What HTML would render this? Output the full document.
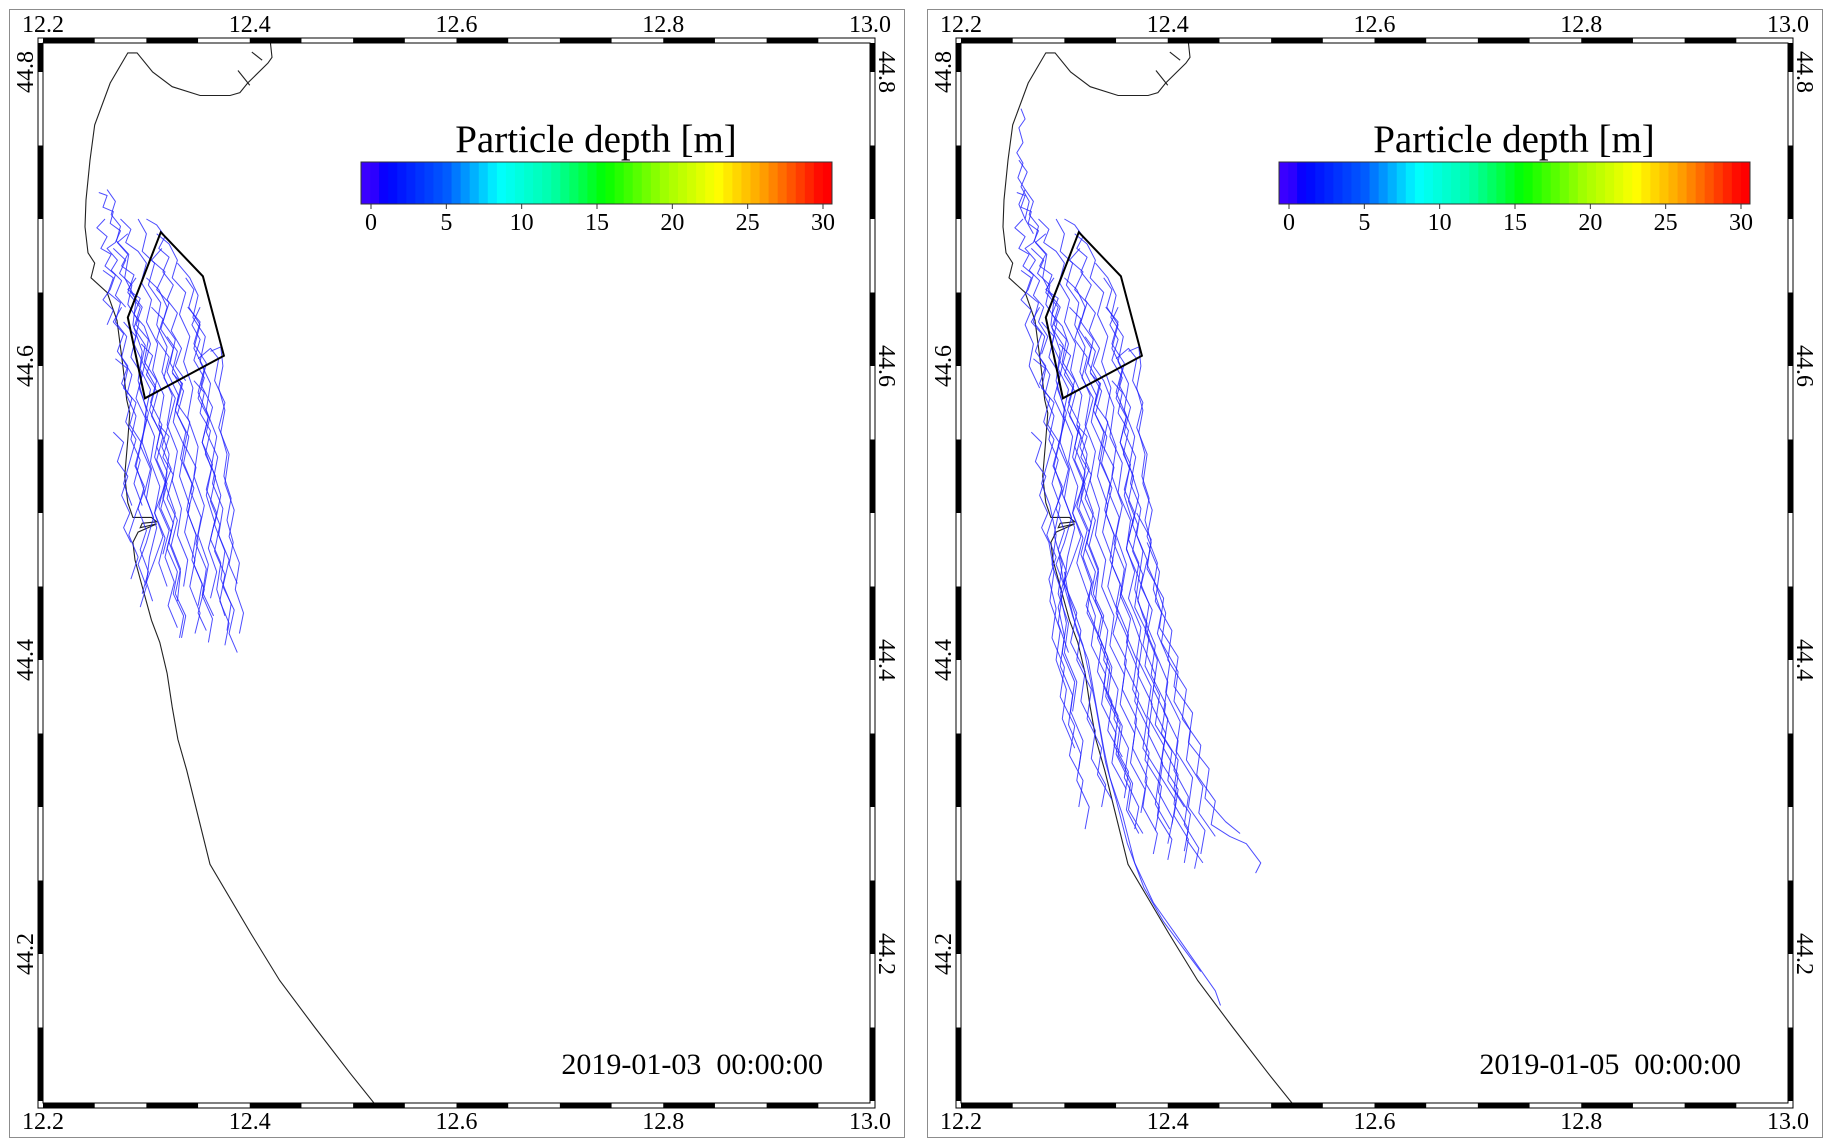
<!DOCTYPE html>
<html><head><meta charset="utf-8">
<style>
html,body{margin:0;padding:0;background:#fff;}
svg{display:block;font-family:"Liberation Serif",serif;}
text{font-family:"Liberation Serif",serif;}
</style></head>
<body>
<svg id="fig" xmlns="http://www.w3.org/2000/svg" width="1830" height="1148" viewBox="0 0 1830 1148" font-family="Liberation Serif, serif"></svg>
<script>
const lonTicks = [12.2, 12.4, 12.6, 12.8, 13.0];
const latTicks = [44.2, 44.4, 44.6, 44.8];
const cbTicks = [0, 5, 10, 15, 20, 25, 30];
const panelDates = ["2019-01-03  00:00:00", "2019-01-05  00:00:00"];
const coastLon = [12.420,12.4215,12.4176,12.398,12.3905,12.381,12.352,12.325,12.306,12.291,12.282,12.265,12.250,12.2455,12.2416,12.2406,12.2435,12.250,12.2464,12.262,12.2716,12.2774,12.281,12.284,12.282,12.279,12.282,12.287,12.305,12.310,12.296,12.294,12.310,12.292,12.287,12.289,12.296,12.305,12.313,12.320,12.325,12.3305,12.339,12.3615,12.401,12.429,12.463,12.497,12.522];
const coastLat = [44.820,44.810,44.806,44.7925,44.786,44.784,44.784,44.790,44.800,44.813,44.813,44.7925,44.764,44.740,44.713,44.6946,44.677,44.670,44.660,44.650,44.631,44.5994,44.577,44.568,44.550,44.525,44.507,44.497,44.497,44.494,44.493,44.490,44.4926,44.487,44.480,44.468,44.450,44.427,44.412,44.391,44.368,44.346,44.325,44.261,44.214,44.182,44.150,44.119,44.097];
const notchLon = [[12.3886,12.400],[12.402,12.412]];
const notchLat = [[44.801,44.791],[44.8136,44.808]];
const areaLon = [12.314,12.3547,12.375,12.2986,12.282];
const areaLat = [44.691,44.661,44.607,44.578,44.633];
const tracksDay3 = [
"12.262,44.720 12.270,44.712 12.266,44.703 12.275,44.695 12.271,44.685 12.283,44.676 12.279,44.660 12.290,44.645 12.287,44.628 12.296,44.610 12.292,44.590 12.300,44.570 12.296,44.548 12.305,44.530 12.300,44.510 12.310,44.490 12.303,44.470 12.300,44.452",
"12.275,44.700 12.285,44.693 12.280,44.684 12.292,44.678 12.300,44.670 12.295,44.657 12.305,44.645 12.300,44.630 12.311,44.615 12.306,44.597 12.317,44.580 12.312,44.560 12.322,44.540 12.318,44.520 12.328,44.500 12.322,44.480 12.333,44.460 12.330,44.440",
"12.310,44.690 12.322,44.683 12.330,44.672 12.325,44.660 12.338,44.650 12.332,44.635 12.342,44.620 12.336,44.603 12.345,44.585 12.340,44.565 12.350,44.545 12.346,44.525 12.356,44.505 12.350,44.485 12.360,44.465 12.355,44.445 12.365,44.430",
"12.330,44.670 12.342,44.660 12.350,44.648 12.345,44.633 12.357,44.620 12.352,44.603 12.362,44.588 12.358,44.570 12.368,44.552 12.363,44.532 12.372,44.512 12.366,44.492 12.376,44.474 12.372,44.455 12.382,44.438 12.378,44.420",
"12.285,44.650 12.296,44.640 12.290,44.628 12.302,44.618 12.298,44.603 12.310,44.590 12.304,44.575 12.315,44.560 12.310,44.545 12.320,44.528 12.316,44.510 12.326,44.493 12.320,44.476 12.330,44.460 12.326,44.445 12.336,44.430 12.332,44.415",
"12.268,44.680 12.280,44.672 12.274,44.663 12.286,44.655 12.282,44.642 12.293,44.630 12.288,44.615 12.298,44.600 12.293,44.585 12.302,44.568 12.296,44.550 12.290,44.532 12.298,44.515 12.290,44.500 12.283,44.485 12.292,44.470 12.285,44.455",
"12.300,44.660 12.312,44.652 12.320,44.640 12.314,44.625 12.326,44.612 12.320,44.596 12.331,44.580 12.326,44.562 12.337,44.545 12.332,44.525 12.342,44.505 12.337,44.487 12.347,44.468 12.342,44.450 12.352,44.432 12.347,44.418",
"12.340,44.640 12.352,44.630 12.346,44.615 12.358,44.602 12.353,44.587 12.364,44.572 12.358,44.555 12.369,44.538 12.364,44.520 12.374,44.503 12.370,44.485 12.380,44.468 12.374,44.450 12.385,44.434 12.380,44.418 12.388,44.405",
"12.292,44.700 12.300,44.690 12.296,44.678 12.308,44.670 12.302,44.655 12.314,44.643 12.310,44.628 12.320,44.613 12.315,44.596 12.325,44.580 12.320,44.560 12.330,44.542 12.325,44.522 12.334,44.503 12.330,44.485 12.340,44.468 12.336,44.450",
"12.278,44.630 12.290,44.620 12.285,44.606 12.296,44.594 12.290,44.578 12.300,44.563 12.294,44.546 12.304,44.530 12.298,44.513 12.307,44.497 12.300,44.480 12.292,44.465 12.300,44.450 12.294,44.436",
"12.320,44.620 12.330,44.610 12.325,44.596 12.336,44.583 12.330,44.567 12.341,44.552 12.336,44.534 12.346,44.517 12.340,44.500 12.350,44.482 12.346,44.465 12.356,44.448 12.350,44.432 12.358,44.420",
"12.350,44.605 12.362,44.612 12.370,44.605 12.366,44.590 12.376,44.575 12.370,44.558 12.380,44.540 12.376,44.520 12.385,44.502 12.380,44.484 12.390,44.466 12.386,44.448 12.394,44.432 12.390,44.418",
"12.362,44.610 12.372,44.613 12.374,44.600 12.370,44.585 12.376,44.570 12.372,44.555 12.378,44.540 12.375,44.525 12.382,44.510 12.378,44.495 12.384,44.480 12.380,44.465 12.388,44.452",
"12.305,44.640 12.316,44.632 12.310,44.618 12.322,44.606 12.317,44.592 12.328,44.578 12.322,44.562 12.315,44.545 12.324,44.530 12.316,44.515 12.308,44.500 12.316,44.484 12.308,44.468 12.300,44.453 12.306,44.440",
"12.270,44.605 12.282,44.598 12.278,44.585 12.290,44.575 12.284,44.560 12.295,44.548 12.289,44.532 12.298,44.518 12.292,44.503 12.300,44.488 12.294,44.475 12.302,44.460 12.296,44.445",
"12.315,44.680 12.305,44.672 12.318,44.664 12.310,44.652 12.322,44.643 12.316,44.630 12.328,44.618 12.323,44.602 12.334,44.588 12.328,44.570 12.338,44.555 12.333,44.537 12.344,44.520 12.339,44.502 12.348,44.485 12.344,44.468 12.354,44.452 12.350,44.437",
"12.282,44.690 12.272,44.684 12.282,44.676 12.276,44.668 12.288,44.662 12.282,44.650 12.294,44.640 12.288,44.626 12.299,44.614 12.294,44.598 12.304,44.584 12.299,44.567 12.308,44.552 12.304,44.535 12.313,44.518 12.308,44.500 12.318,44.483 12.312,44.466 12.320,44.450",
"12.258,44.665 12.268,44.660 12.263,44.650 12.275,44.643 12.270,44.630 12.281,44.620 12.276,44.606 12.286,44.594 12.281,44.580 12.290,44.566 12.285,44.550 12.294,44.536 12.288,44.520 12.296,44.505",
"12.325,44.595 12.335,44.588 12.330,44.574 12.342,44.562 12.337,44.546 12.348,44.531 12.343,44.514 12.353,44.497 12.348,44.479 12.358,44.462 12.354,44.444 12.364,44.428 12.360,44.412",
"12.338,44.660 12.346,44.652 12.341,44.640 12.352,44.628 12.346,44.612 12.356,44.598 12.350,44.582 12.360,44.566 12.354,44.548 12.363,44.530 12.358,44.512 12.366,44.494 12.360,44.476 12.368,44.460 12.362,44.442",
"12.295,44.615 12.306,44.607 12.300,44.594 12.311,44.582 12.305,44.566 12.316,44.552 12.310,44.536 12.320,44.520 12.314,44.503 12.324,44.487 12.318,44.470 12.327,44.453 12.321,44.437 12.330,44.422",
"12.254,44.718 12.262,44.716 12.258,44.708 12.268,44.705 12.265,44.697 12.275,44.692 12.270,44.684 12.262,44.680 12.272,44.672 12.266,44.665 12.276,44.658 12.270,44.648 12.280,44.640",
"12.260,44.700 12.252,44.694 12.262,44.688 12.256,44.680 12.266,44.676 12.260,44.668 12.270,44.662 12.265,44.652 12.258,44.645 12.268,44.638 12.262,44.628",
"12.300,44.700 12.310,44.696 12.318,44.688 12.312,44.680 12.322,44.674 12.316,44.664 12.326,44.655 12.320,44.645 12.330,44.636 12.324,44.624 12.334,44.612 12.328,44.600 12.338,44.590",
"12.268,44.555 12.278,44.548 12.272,44.535 12.282,44.525 12.276,44.512 12.284,44.500 12.278,44.490 12.285,44.480",
"12.346,44.590 12.356,44.582 12.352,44.568 12.362,44.556 12.357,44.540 12.367,44.525 12.362,44.508 12.371,44.492 12.366,44.474 12.376,44.458 12.371,44.440 12.380,44.425 12.376,44.410",
"12.290,44.660 12.282,44.652 12.294,44.646 12.288,44.635 12.298,44.627 12.304,44.615 12.298,44.600 12.309,44.586 12.303,44.570 12.313,44.555 12.308,44.538 12.318,44.521 12.312,44.504 12.322,44.488 12.316,44.472",
"12.276,44.640 12.268,44.630 12.278,44.622 12.272,44.610 12.282,44.600 12.276,44.588 12.286,44.578 12.280,44.562 12.290,44.550 12.284,44.535 12.278,44.520 12.286,44.505",
"12.352,44.640 12.344,44.628 12.352,44.618 12.346,44.604 12.356,44.592 12.350,44.578 12.360,44.565 12.354,44.548 12.364,44.533 12.358,44.516 12.368,44.500 12.362,44.482 12.372,44.466 12.368,44.448 12.376,44.430",
"12.312,44.560 12.322,44.552 12.316,44.538 12.326,44.526 12.320,44.510 12.330,44.495 12.324,44.478 12.333,44.462 12.328,44.445 12.338,44.430 12.334,44.415"
];
const extDay5 = [
"12.312,44.432 12.306,44.412 12.320,44.392 12.316,44.372 12.330,44.352 12.326,44.333 12.340,44.315 12.336,44.300",
"12.342,44.420 12.338,44.400 12.352,44.380 12.348,44.360 12.362,44.340 12.358,44.320 12.372,44.300 12.368,44.285",
"12.375,44.410 12.371,44.390 12.385,44.370 12.381,44.350 12.395,44.330 12.391,44.310 12.405,44.292 12.400,44.275",
"12.390,44.400 12.386,44.380 12.400,44.360 12.396,44.340 12.410,44.322 12.406,44.302 12.420,44.285 12.416,44.270",
"12.344,44.395 12.340,44.375 12.354,44.356 12.350,44.336 12.364,44.316 12.360,44.298 12.372,44.282",
"12.292,44.435 12.288,44.415 12.300,44.395 12.296,44.375 12.310,44.355 12.305,44.335 12.318,44.318 12.314,44.300",
"12.360,44.400 12.356,44.380 12.370,44.360 12.366,44.340 12.380,44.320 12.376,44.300 12.390,44.282 12.386,44.268",
"12.400,44.385 12.396,44.365 12.410,44.345 12.406,44.325 12.420,44.307 12.416,44.288 12.430,44.272 12.426,44.258",
"12.348,44.430 12.344,44.410 12.358,44.390 12.354,44.370 12.368,44.350 12.364,44.330 12.378,44.312 12.374,44.296",
"12.300,44.416 12.296,44.396 12.308,44.376 12.304,44.356 12.316,44.336 12.312,44.318 12.324,44.300 12.320,44.285",
"12.370,44.400 12.366,44.380 12.380,44.360 12.376,44.340 12.392,44.322 12.388,44.302 12.402,44.285",
"12.402,44.398 12.398,44.378 12.412,44.358 12.408,44.338 12.424,44.320 12.420,44.300 12.436,44.284 12.432,44.268",
"12.398,44.432 12.394,44.412 12.410,44.392 12.406,44.372 12.422,44.352 12.418,44.332 12.434,44.314 12.430,44.296 12.446,44.280",
"12.316,44.420 12.312,44.400 12.326,44.380 12.322,44.360 12.336,44.340 12.332,44.322 12.346,44.305",
"12.302,44.425 12.298,44.405 12.310,44.385 12.306,44.365 12.318,44.345 12.314,44.326",
"12.362,44.417 12.358,44.397 12.372,44.377 12.368,44.357 12.382,44.337 12.378,44.317 12.392,44.300 12.388,44.284",
"12.330,44.430 12.326,44.410 12.340,44.390 12.336,44.370 12.350,44.350 12.346,44.330 12.360,44.312",
"12.290,44.485 12.298,44.465 12.294,44.445 12.304,44.425 12.300,44.405 12.312,44.385 12.308,44.365",
"12.372,44.392 12.368,44.372 12.382,44.352 12.378,44.332 12.394,44.314 12.390,44.294 12.404,44.278 12.400,44.264",
"12.374,44.422 12.370,44.402 12.384,44.382 12.380,44.362 12.396,44.342 12.392,44.322 12.408,44.304 12.404,44.288",
"12.342,44.402 12.338,44.382 12.352,44.362 12.348,44.342 12.362,44.324 12.358,44.306",
"12.275,44.630 12.284,44.620 12.278,44.608",
"12.270,44.615 12.266,44.600 12.276,44.585",
"12.348,44.572 12.344,44.552 12.356,44.534 12.352,44.514 12.364,44.495 12.360,44.475 12.372,44.456 12.368,44.436 12.382,44.416 12.378,44.396 12.392,44.376 12.388,44.356 12.404,44.338 12.400,44.318 12.416,44.300",
"12.290,44.460 12.286,44.440 12.296,44.420 12.292,44.400 12.302,44.380 12.298,44.360 12.310,44.340",
"12.388,44.390 12.384,44.370 12.398,44.350 12.394,44.330 12.410,44.312 12.406,44.294 12.420,44.278 12.416,44.262",
"12.326,44.452 12.322,44.432 12.336,44.412 12.332,44.392 12.346,44.372 12.342,44.352 12.356,44.334",
"12.292,44.485 12.288,44.465 12.298,44.445 12.294,44.425 12.304,44.405",
"12.388,44.410 12.384,44.390 12.398,44.370 12.394,44.350 12.410,44.332 12.406,44.312 12.422,44.295 12.418,44.278 12.434,44.262",
"12.346,44.395 12.342,44.375 12.356,44.355 12.352,44.335 12.366,44.316 12.362,44.298 12.376,44.282"
];
const extraDay5 = [
"12.262,44.700 12.256,44.710 12.262,44.720 12.255,44.728 12.260,44.738 12.254,44.745 12.260,44.752 12.256,44.762 12.262,44.768 12.258,44.775",
"12.270,44.690 12.262,44.700 12.266,44.712 12.258,44.722 12.264,44.732 12.256,44.740",
"12.380,44.480 12.392,44.460 12.388,44.440 12.404,44.420 12.400,44.400 12.418,44.380 12.414,44.360 12.432,44.342 12.428,44.322 12.446,44.304 12.442,44.288 12.460,44.280 12.476,44.275 12.490,44.262 12.485,44.255",
"12.370,44.500 12.384,44.482 12.380,44.462 12.396,44.442 12.392,44.422 12.410,44.402 12.406,44.382 12.424,44.364 12.420,44.344 12.440,44.326 12.436,44.306 12.456,44.290 12.470,44.282",
"12.300,44.460 12.305,44.440 12.312,44.420 12.323,44.400 12.328,44.380 12.333,44.360 12.338,44.340 12.344,44.320 12.356,44.295 12.368,44.262 12.386,44.235 12.406,44.215 12.426,44.195 12.446,44.175 12.451,44.165",
"12.295,44.470 12.300,44.450 12.308,44.430 12.318,44.410 12.324,44.390 12.330,44.370 12.335,44.350 12.340,44.330 12.350,44.305 12.361,44.275 12.377,44.245 12.396,44.222 12.416,44.203 12.432,44.188"
];
const cmapVals = [0, 1, 5, 8.5, 12, 15.5, 19.5, 23, 26, 30];
const cmapCols = [[58,0,255],[0,0,255],[0,90,255],[0,255,255],[0,255,170],[0,255,0],[160,255,0],[255,255,0],[255,160,0],[255,0,0]];

const NS = "http://www.w3.org/2000/svg";
const svg = document.getElementById("fig");
const FONT = '"Liberation Serif", serif';
function mk(tag, attrs, parent) {
  const e = document.createElementNS(NS, tag);
  for (const k in attrs) e.setAttribute(k, attrs[k]);
  if (tag === "text") e.setAttribute("font-family", FONT);
  (parent || svg).appendChild(e);
  return e;
}
function parseTrack(s) { return s.trim().split(/\s+/).map(p => p.split(",").map(Number)); }
function cmap(v) {
  for (let i = 0; i < cmapVals.length - 1; i++) {
    if (v <= cmapVals[i + 1]) {
      const t = (v - cmapVals[i]) / (cmapVals[i + 1] - cmapVals[i]);
      const a = cmapCols[i], b = cmapCols[i + 1];
      return "rgb(" + a.map((c, j) => Math.round(c + (b[j] - c) * t)).join(",") + ")";
    }
  }
  return "rgb(255,0,0)";
}
const LON0 = 12.2, LAT_REF = 44.8;
const PX_LON = 1033.75, PX_LAT = 1470;
const FX0 = 43, FX1 = 870, FY0 = 43, FY1 = 1103;

function drawPanel(ox, panelIdx) {
  const X = lon => ox + FX0 + (lon - LON0) * PX_LON;
  const Y = lat => 72 + (LAT_REF - lat) * PX_LAT;
  const latTop = LAT_REF + (72 - FY0) / PX_LAT;
  const latBot = LAT_REF - (FY1 - 72) / PX_LAT;

  const g = mk("g", {});
  
  

  const outer = mk("rect", {x: ox + 9.5, y: 9.5, width: 895, height: 1128, fill: "none", stroke: "#8c8c8c", "stroke-width": 1}, g);
  
  

  const clip = mk("clipPath", {id: "clip" + panelIdx}, g);
  mk("rect", {x: ox + FX0, y: FY0, width: FX1 - FX0, height: FY1 - FY0}, clip);
  const plot = mk("g", {"clip-path": "url(#clip" + panelIdx + ")"}, g);
  
  

  let d = coastLon.map((lo, i) => (i ? "L" : "M") + X(lo).toFixed(1) + " " + Y(coastLat[i]).toFixed(1)).join("");
  const coast = mk("path", {d: d, fill: "none", stroke: "#222", "stroke-width": 1.1}, plot);
  
  
  notchLon.forEach((nl, i) => {
    const n = mk("line", {x1: X(nl[0]), y1: Y(notchLat[i][0]), x2: X(nl[1]), y2: Y(notchLat[i][1]), stroke: "#222", "stroke-width": 1.1}, plot);
    
    
  });

  const tg = mk("g", {fill: "none", stroke: "#2020ff", "stroke-width": 1, "stroke-opacity": 0.8, "stroke-linejoin": "round"}, plot);
  
  
  const tracks = tracksDay3.map((s, i) => {
    let pts = parseTrack(s);
    if (panelIdx === 1 && extDay5[i]) pts = pts.concat(parseTrack(extDay5[i]));
    return pts;
  });
  if (panelIdx === 1) extraDay5.forEach(s => tracks.push(parseTrack(s)));
  tracks.forEach(pts => {
    const pd = pts.map((p, j) => (j ? "L" : "M") + X(p[0]).toFixed(1) + " " + Y(p[1]).toFixed(1)).join("");
    const t = mk("path", {d: pd}, tg);
    
    
  });

  const poly = mk("polygon", {points: areaLon.map((lo, i) => X(lo).toFixed(1) + "," + Y(areaLat[i]).toFixed(1)).join(" "), fill: "none", stroke: "#000", "stroke-width": 2}, plot);
  
  

  const fr = mk("g", {}, g);
  
  
  for (let k = 0; k < 16; k++) {
    if (k % 2) continue;
    const xa = X(LON0 + 0.05 * k), xb = X(LON0 + 0.05 * (k + 1));
    mk("rect", {x: xa, y: 38, width: xb - xa, height: 5, fill: "#000"}, fr);
    mk("rect", {x: xa, y: FY1, width: xb - xa, height: 5, fill: "#000"}, fr);
  }
  for (let k = 0; k < 20; k++) {
    if (k % 2) continue;
    let lo = 44.0 + 0.05 * k, hi = lo + 0.05;
    lo = Math.max(lo, latBot); hi = Math.min(hi, latTop);
    if (hi <= lo) continue;
    mk("rect", {x: ox + 38, y: Y(hi), width: 5, height: Y(lo) - Y(hi), fill: "#000"}, fr);
    mk("rect", {x: ox + FX1, y: Y(hi), width: 5, height: Y(lo) - Y(hi), fill: "#000"}, fr);
  }
  mk("rect", {x: ox + 38, y: 38, width: 837, height: 1070, fill: "none", stroke: "#000", "stroke-width": 1}, fr);
  mk("rect", {x: ox + FX0, y: FY0, width: FX1 - FX0, height: FY1 - FY0, fill: "none", stroke: "#000", "stroke-width": 1}, fr);

  lonTicks.forEach(v => {
    const t1 = mk("text", {x: X(v), y: 32, "font-size": 24, "text-anchor": "middle"}, g);
    t1.textContent = v.toFixed(1);
    
    
    const t2 = mk("text", {x: X(v), y: 1129, "font-size": 24, "text-anchor": "middle"}, g);
    t2.textContent = v.toFixed(1);
    
    
  });
  latTicks.forEach(v => {
    const y = Y(v);
    const t1 = mk("text", {x: ox + 33, y: y, "font-size": 24, "text-anchor": "middle", transform: "rotate(-90 " + (ox + 33) + " " + y + ")"}, g);
    t1.textContent = v.toFixed(1);
    
    
    const t2 = mk("text", {x: ox + 879, y: y, "font-size": 24, "text-anchor": "middle", transform: "rotate(90 " + (ox + 879) + " " + y + ")"}, g);
    t2.textContent = v.toFixed(1);
    
    
  });

  const cb = mk("g", {}, g);
  
  
  const cbX0 = ox + 361, cbX1 = ox + 832, cbY0 = 162, cbY1 = 204;
  const vx = v => ox + 371 + (v / 30) * 452;
  const nBlocks = 52;
  const vmin = -0.66, vmax = 30.6;
  for (let i = 0; i < nBlocks; i++) {
    const a = cbX0 + (cbX1 - cbX0) * i / nBlocks, b = cbX0 + (cbX1 - cbX0) * (i + 1) / nBlocks;
    const v = vmin + (vmax - vmin) * (i + 0.5) / nBlocks;
    mk("rect", {x: a, y: cbY0, width: b - a + 0.4, height: cbY1 - cbY0, fill: cmap(Math.max(0, v))}, cb);
  }
  mk("rect", {x: cbX0, y: cbY0, width: cbX1 - cbX0, height: cbY1 - cbY0, fill: "none", stroke: "#333", "stroke-width": 1}, cb);
  cbTicks.forEach(v => {
    mk("line", {x1: vx(v), y1: cbY1, x2: vx(v), y2: cbY1 + 5, stroke: "#333", "stroke-width": 1}, cb);
    const t = mk("text", {x: vx(v), y: 230, "font-size": 24, "text-anchor": "middle"}, cb);
    t.textContent = String(v);
    
    
  });
  const title = mk("text", {x: ox + 596, y: 152, "font-size": 39, "text-anchor": "middle"}, cb);
  title.textContent = "Particle depth [m]";
  
  

  const dt = mk("text", {x: ox + 823, y: 1074, "font-size": 30, "text-anchor": "end"}, g);
  dt.setAttribute("xml:space", "preserve");
  dt.style.whiteSpace = "pre";
  dt.textContent = panelDates[panelIdx];
  
  
}
drawPanel(0, 0);
drawPanel(918, 1);
</script>
</body></html>
